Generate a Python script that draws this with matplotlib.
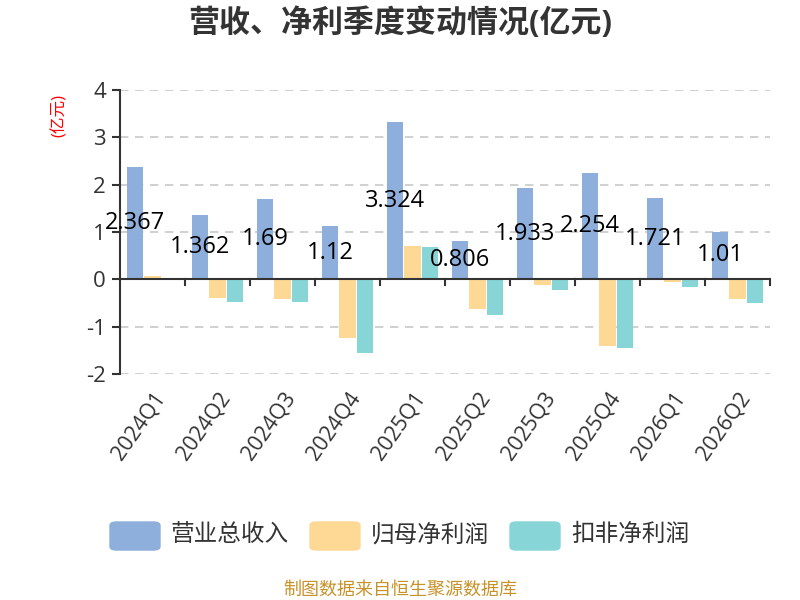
import numpy as np
import matplotlib.pyplot as plt
from matplotlib.patches import FancyBboxPatch

plt.rcParams['font.family'] = ['Open Sans', 'Noto Sans CJK SC', 'DejaVu Sans']
plt.rcParams['axes.unicode_minus'] = False

# data (亿元)
quarters = ['2024Q1', '2024Q2', '2024Q3', '2024Q4', '2025Q1',
            '2025Q2', '2025Q3', '2025Q4', '2026Q1', '2026Q2']
revenue = [2.367, 1.362, 1.69, 1.12, 3.324, 0.806, 1.933, 2.254, 1.721, 1.01]
net_profit = [0.08, -0.39, -0.41, -1.23, 0.71, -0.63, -0.13, -1.41, -0.05, -0.42]
net_profit_deducted = [0.01, -0.47, -0.47, -1.56, 0.69, -0.75, -0.22, -1.45, -0.16, -0.49]
series_names = ['营业总收入', '归母净利润', '扣非净利润']
colors = ['#8eaedb', '#fed995', '#88d5d8']

fig = plt.figure(figsize=(8, 6), dpi=100)
ax = fig.add_axes([0.15, 0.3767, 0.8125, 0.4733])

x = np.arange(len(quarters))
w = 0.25
off = 0.265
ax.bar(x - off, revenue, w, color=colors[0], zorder=3)
ax.bar(x, net_profit, w, color=colors[1], zorder=3)
ax.bar(x + off, net_profit_deducted, w, color=colors[2], zorder=3)

# value labels in the middle of the revenue bars
for xi, v in zip(x - off, revenue):
    ax.text(xi, v / 2, f'{v:g}', ha='center', va='center', fontsize=17,
            color='black', zorder=5)

ax.set_xlim(-0.5, len(quarters) - 0.5)
ax.set_ylim(-2, 4)
ax.set_yticks([-2, -1, 0, 1, 2, 3, 4])
ax.yaxis.grid(True, linestyle=(0, (5, 4)), color='#c8c8c8', linewidth=1.2, zorder=0)
for s in ['top', 'right', 'bottom']:
    ax.spines[s].set_visible(False)
ax.spines['left'].set_color('#333333')
ax.spines['left'].set_linewidth(1.5)
ax.tick_params(axis='y', length=6, width=1.5, color='#333333', labelsize=16,
               labelcolor='#333333', pad=4)

# zero line acting as category axis
ax.axhline(0, color='#333333', linewidth=1.5, zorder=4)
for b in np.arange(0.5, len(quarters), 1.0):
    ax.plot([b, b], [0, -0.13], color='#333333', linewidth=1.5, zorder=4,
            clip_on=False)

ax.set_xticks(x)
ax.set_xticklabels(quarters, rotation=55, ha='right', va='top',
                   rotation_mode='anchor', fontsize=15.5, color='#333333')
ax.tick_params(axis='x', length=0, pad=10)

fig.text(0.5, 0.962, '营收、净利季度变动情况(亿元)', ha='center', va='center',
         fontsize=22.3, fontweight='bold', color='#333333')
fig.text(0.075, 0.808, '(亿元)', ha='center', va='center', rotation=90,
         fontsize=12, color='red')

# legend with rounded swatches
leg_x = [0.1375, 0.3875, 0.6375]
for lx, name, c in zip(leg_x, series_names, colors):
    fig.patches.append(FancyBboxPatch((lx, 0.0833), 0.0625, 0.0467,
                                      boxstyle='round,pad=0,rounding_size=0.008',
                                      transform=fig.transFigure, color=c,
                                      mutation_aspect=0.75))
    fig.text(lx + 0.076, 0.108, name, ha='left', va='center', fontsize=17,
             color='#333333')

fig.text(0.5, 0.018, '制图数据来自恒生聚源数据库', ha='center', va='center',
         fontsize=13, color='#c8922a')

fig.savefig('out.png', dpi=100)
